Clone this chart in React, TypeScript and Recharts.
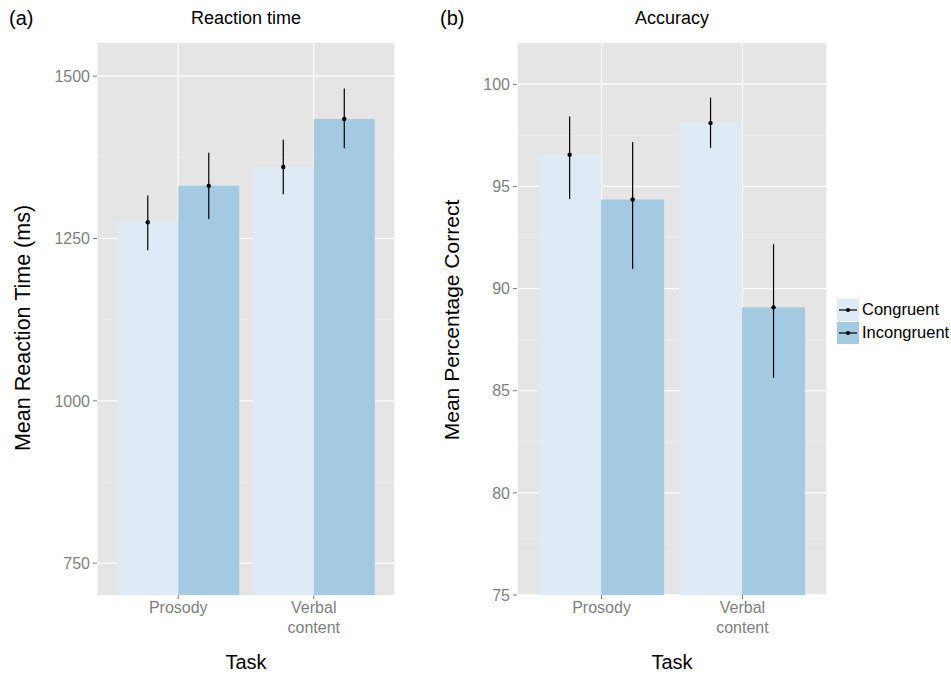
import React from "react";
import { BarChart, Bar, XAxis, YAxis, CartesianGrid, ErrorBar } from "recharts";

const tasks = ["Prosody", "Verbal\ncontent"];

// reaction time (ms)
const rtCongruent = [1275, 1360];
const rtCongruentLow = [1232, 1318];
const rtCongruentHigh = [1316, 1402];
const rtIncongruent = [1331, 1434];
const rtIncongruentLow = [1280, 1389];
const rtIncongruentHigh = [1382, 1481];
const rtTicks = [750, 1000, 1250, 1500];
const rtMinor = [875, 1125, 1375];

// accuracy (%)
const accCongruent = [96.55, 98.1];
const accCongruentLow = [94.38, 96.87];
const accCongruentHigh = [98.42, 99.35];
const accIncongruent = [94.36, 89.08];
const accIncongruentLow = [90.96, 85.63];
const accIncongruentHigh = [97.17, 92.18];
const accTicks = [75, 80, 85, 90, 95, 100];
const accMinor = [77.5, 82.5, 87.5, 92.5, 97.5];

const FONT = "'Liberation Sans', Arial, sans-serif";
const C_CONG = "#DEEAF5";
const C_INCONG = "#A3CAE1";
const GREY = "#7F7F7F";

function buildRows(
  cong: number[], congLow: number[], congHigh: number[],
  incong: number[], incongLow: number[], incongHigh: number[]
) {
  return tasks.map((task, i) => ({
    task,
    congruent: cong[i],
    congErr: [cong[i] - congLow[i], congHigh[i] - cong[i]],
    incongruent: incong[i],
    incongErr: [incong[i] - incongLow[i], incongHigh[i] - incong[i]],
  }));
}

const rtRows = buildRows(rtCongruent, rtCongruentLow, rtCongruentHigh, rtIncongruent, rtIncongruentLow, rtIncongruentHigh);
const accRows = buildRows(accCongruent, accCongruentLow, accCongruentHigh, accIncongruent, accIncongruentLow, accIncongruentHigh);

const TaskTick = (props: any) => {
  const { x, y, payload } = props;
  const lines = String(payload.value).split("\n");
  return (
    <text x={x} y={y} textAnchor="middle" fill={GREY} fontSize={16} fontFamily={FONT}>
      {lines.map((l, i) => (
        <tspan key={i} x={x} dy={i === 0 ? "0.78em" : "1.2em"}>{l}</tspan>
      ))}
    </text>
  );
};

const Dot = (props: any) => {
  const { x, y, width } = props;
  return <circle cx={x + width / 2} cy={y} r={2.2} fill="#000" />;
};

function Panel({ rows, domain, ticks, minor, width, pad }: any) {
  return (
    <BarChart
      width={width}
      height={675}
      data={rows}
      margin={{ top: 43, right: 5, bottom: 40, left: 47 }}
      barCategoryGap="5%"
      barGap={0}
    >
      <CartesianGrid fill="#E5E5E5" stroke="#F0F0F0" strokeWidth={0.6} horizontalValues={minor} vertical={false} />
      <CartesianGrid stroke="#FFFFFF" strokeWidth={1.3} horizontalValues={ticks} />
      <XAxis
        dataKey="task"
        height={40}
        padding={{ left: pad, right: pad }}
        axisLine={false}
        tickLine={{ stroke: GREY }}
        tickSize={4}
        tickMargin={2}
        tick={<TaskTick />}
        interval={0}
      />
      <YAxis
        type="number"
        width={50}
        domain={domain}
        ticks={ticks}
        allowDataOverflow
        axisLine={false}
        tickLine={{ stroke: GREY }}
        tickSize={4}
        tickMargin={3}
        tick={{ fill: GREY, fontSize: 16, fontFamily: FONT }}
      />
      <Bar dataKey="congruent" fill={C_CONG} isAnimationActive={false} label={<Dot />}>
        <ErrorBar dataKey="congErr" width={0} stroke="#000" strokeWidth={1.2} />
      </Bar>
      <Bar dataKey="incongruent" fill={C_INCONG} isAnimationActive={false} label={<Dot />}>
        <ErrorBar dataKey="incongErr" width={0} stroke="#000" strokeWidth={1.2} />
      </Bar>
    </BarChart>
  );
}

const abs = (left: number, top: number, extra: any = {}) => ({
  position: "absolute" as const,
  left,
  top,
  fontFamily: FONT,
  whiteSpace: "nowrap" as const,
  ...extra,
});

function LegendKey({ color }: { color: string }) {
  return (
    <svg width={22} height={22} style={{ display: "block" }}>
      <rect x={0} y={0} width={22} height={22} fill={color} />
      <line x1={2} y1={11} x2={20} y2={11} stroke="#000" strokeWidth={1.2} />
      <circle cx={11} cy={11} r={2} fill="#000" />
    </svg>
  );
}

export default function App() {
  return (
    <div style={{ position: "fixed", left: 0, top: 0, width: 951, height: 675, background: "#fff", overflow: "hidden" }}>
      <div style={abs(0, 0)}>
        <Panel rows={rtRows} domain={[701, 1551]} ticks={rtTicks} minor={rtMinor} width={400} pad={13.5} />
      </div>
      <div style={abs(420, 0)}>
        <Panel rows={accRows} domain={[75, 102.02]} ticks={accTicks} minor={accMinor} width={412} pad={14.1} />
      </div>

      <div style={abs(9, 7, { fontSize: 20 })}>(a)</div>
      <div style={abs(246, 8, { fontSize: 18, transform: "translateX(-50%)" })}>Reaction time</div>
      <div style={abs(440, 7, { fontSize: 20 })}>(b)</div>
      <div style={abs(672, 8, { fontSize: 18, transform: "translateX(-50%)" })}>Accuracy</div>

      <div style={abs(23, 328, { fontSize: 21.5, transform: "translate(-50%, -50%) rotate(-90deg)" })}>
        Mean Reaction Time (ms)
      </div>
      <div style={abs(452, 320, { fontSize: 21, transform: "translate(-50%, -50%) rotate(-90deg)" })}>
        Mean Percentage Correct
      </div>

      <div style={abs(246, 651, { fontSize: 20, transform: "translateX(-50%)" })}>Task</div>
      <div style={abs(672, 651, { fontSize: 20, transform: "translateX(-50%)" })}>Task</div>

      <div style={abs(837, 298, { fontSize: 16.5 })}>
        <div style={{ display: "flex", alignItems: "center", height: 23 }}>
          <LegendKey color={C_CONG} />
          <span style={{ marginLeft: 3 }}>Congruent</span>
        </div>
        <div style={{ display: "flex", alignItems: "center", height: 23 }}>
          <LegendKey color={C_INCONG} />
          <span style={{ marginLeft: 3 }}>Incongruent</span>
        </div>
      </div>
    </div>
  );
}
